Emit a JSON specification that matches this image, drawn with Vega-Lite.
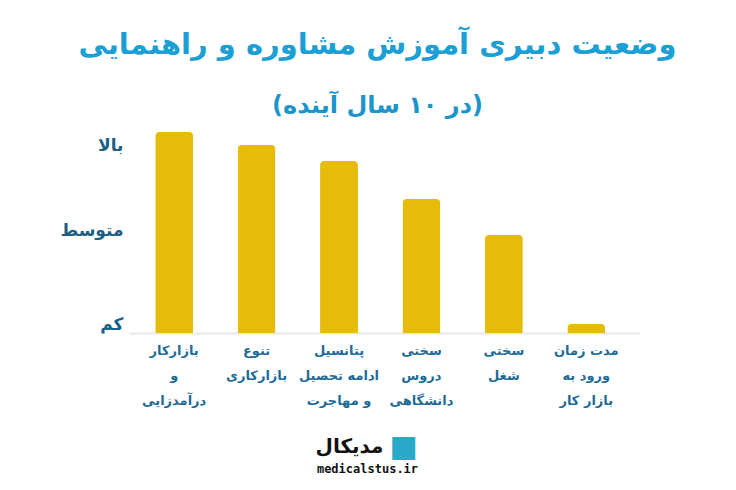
{
  "$schema": "https://vega.github.io/schema/vega-lite/v6.json",
  "autosize": {"type": "none"},
  "width": 511,
  "height": 203,
  "padding": {"left": 129, "top": 130, "right": 96, "bottom": 157},
  "background": "white",
  "config": {
    "view": {"stroke": null},
    "font": "DejaVu Sans"
  },
  "title": {
    "text": "وضعیت دبیری آموزش مشاوره و راهنمایی",
    "subtitle": "(در ۱۰ سال آینده)",
    "font": "DejaVu Sans",
    "fontSize": 29,
    "fontWeight": "bold",
    "color": "#1b9fd5",
    "subtitleFont": "DejaVu Sans",
    "subtitleFontSize": 24,
    "subtitleFontWeight": "bold",
    "subtitleColor": "#1b95cc",
    "subtitlePadding": 34,
    "anchor": "middle",
    "offset": 12,
    "dx": -7
  },
  "data": {
    "values": [
      {"item": "بازارکار|و|درآمدزایی", "level": 99},
      {"item": "تنوع|بازارکاری", "level": 92.6},
      {"item": "پتانسیل|ادامه تحصیل|و مهاجرت", "level": 84.7},
      {"item": "سختی|دروس|دانشگاهی", "level": 66},
      {"item": "سختی|شغل", "level": 48.3},
      {"item": "مدت زمان|ورود به|بازار کار", "level": 4.4}
    ]
  },
  "encoding": {
    "x": {
      "field": "item",
      "type": "nominal",
      "sort": null,
      "scale": {"paddingInner": 0.54, "paddingOuter": 0.37, "align": 0.43},
      "axis": {
        "labelExpr": "split(datum.label, '|')",
        "labelAngle": 0,
        "labelFont": "DejaVu Sans",
        "labelFontSize": 13,
        "labelFontWeight": "bold",
        "labelColor": "#1d6b98",
        "labelLineHeight": 25,
        "labelPadding": 11,
        "labelBaseline": "top",
        "ticks": false,
        "domainColor": "#e8e8e8",
        "domainWidth": 2,
        "title": "مدیکال",
        "titleFont": "DejaVu Sans",
        "titleFontSize": 20,
        "titleFontWeight": "bold",
        "titleColor": "#111111",
        "titleX": 220,
        "titleY": 113,
        "titleAlign": "center",
        "titleBaseline": "middle"
      }
    }
  },
  "layer": [
    {
      "mark": {"type": "bar", "color": "#e6bb0c", "cornerRadiusTopLeft": 4, "cornerRadiusTopRight": 4},
      "encoding": {
        "y": {
          "field": "level",
          "type": "quantitative",
          "scale": {"domain": [0, 100]},
          "axis": {
            "values": [4, 50.5, 92.6],
            "labelExpr": "datum.value < 20 ? 'کم' : (datum.value < 70 ? 'متوسط' : 'بالا')",
            "labelFont": "DejaVu Sans",
            "labelFontSize": 17,
            "labelFontWeight": "bold",
            "labelColor": "#1b5f85",
            "labelPadding": 6,
            "ticks": false,
            "domain": false,
            "grid": false,
            "title": "medicalstus.ir",
            "titleFont": "DejaVu Sans Mono",
            "titleFontSize": 12,
            "titleFontWeight": "bold",
            "titleColor": "#111111",
            "titleAngle": 0,
            "titleX": 238,
            "titleY": 338,
            "titleAlign": "center",
            "titleBaseline": "middle"
          }
        }
      }
    },
    {
      "mark": {"type": "bar", "opacity": 0},
      "encoding": {
        "y": {
          "field": "level",
          "type": "quantitative",
          "scale": {"domain": [0, 100]},
          "axis": {
            "orient": "right",
            "labels": false,
            "ticks": false,
            "domain": false,
            "grid": false,
            "title": "■",
            "titleFont": "DejaVu Sans",
            "titleFontSize": 30,
            "titleColor": "#2aa8c8",
            "titleAngle": 0,
            "titleX": -237,
            "titleY": 316,
            "titleAlign": "center",
            "titleBaseline": "middle"
          }
        }
      }
    }
  ],
  "resolve": {"axis": {"y": "independent"}}
}
